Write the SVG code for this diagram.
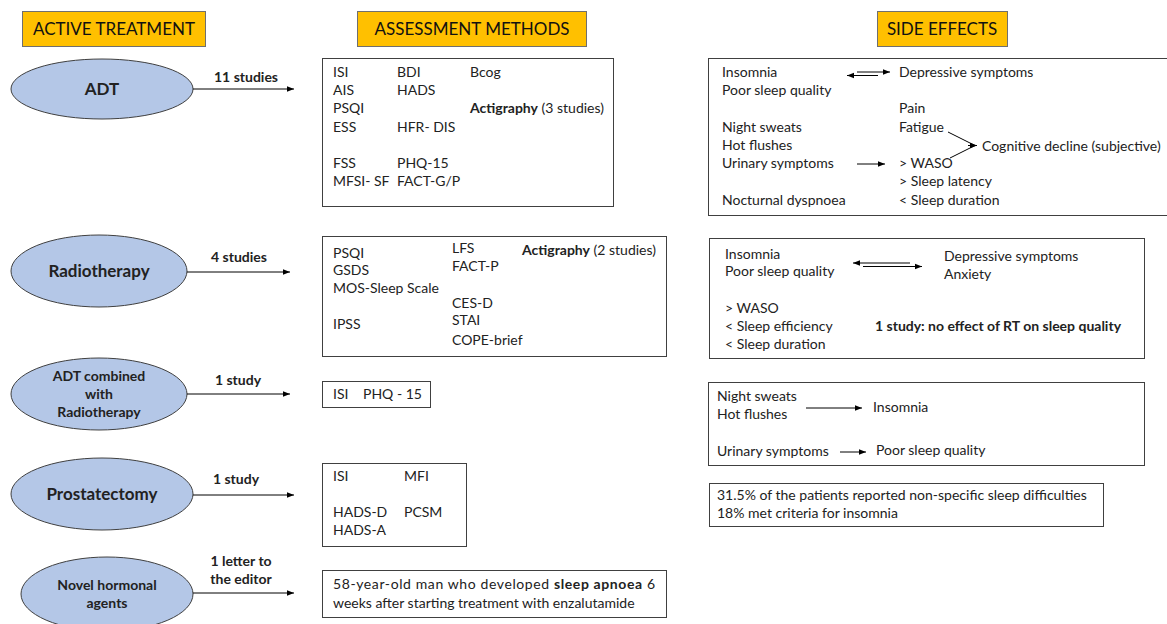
<svg xmlns="http://www.w3.org/2000/svg" width="1167" height="624" viewBox="0 0 1167 624">
<defs>
<style>
text{font-family:Lato,"Liberation Sans",sans-serif;font-size:14px;fill:#222}
.b{font-weight:bold}
.h{font-size:17px;fill:#111}
.hdr{fill:#FFC000;stroke:#6f6f6f;stroke-width:1}
.ell{fill:#B4C7E7;stroke:#404040;stroke-width:1}
.box{fill:#fff;stroke:#404040;stroke-width:1}
.ln{stroke:#000;stroke-width:1;fill:none}
.et{font-weight:bold;font-size:17px;text-anchor:middle}
.et2{font-weight:bold;font-size:14px;text-anchor:middle}
.lab{font-weight:bold;font-size:14px;text-anchor:middle}
</style>
<marker id="ah" viewBox="0 0 10 10" refX="10" refY="5" markerWidth="7" markerHeight="7" markerUnits="userSpaceOnUse" orient="auto"><path d="M0,1 L10,5 L0,9 z" fill="#000"/></marker>
</defs>
<rect width="1167" height="624" fill="#fff"/>

<g id="hdr-active"><rect class="hdr" x="22.5" y="11.5" width="183" height="35"/><text class="h" x="114" y="35" text-anchor="middle">ACTIVE TREATMENT</text></g>
<g id="hdr-assess"><rect class="hdr" x="357.5" y="11.5" width="229" height="35"/><text class="h" x="472" y="35" text-anchor="middle">ASSESSMENT METHODS</text></g>
<g id="hdr-side"><rect class="hdr" x="877.5" y="11.5" width="130" height="35"/><text class="h" x="942" y="35" text-anchor="middle">SIDE EFFECTS</text></g>

<g id="n-adt"><ellipse class="ell" cx="102" cy="89" rx="91" ry="30"/><text class="et" x="102" y="95">ADT</text></g>
<g id="n-rt"><ellipse class="ell" cx="99" cy="271" rx="88" ry="36"/><text class="et" x="99" y="277">Radiotherapy</text></g>
<g id="n-adtrt"><ellipse class="ell" cx="99" cy="394" rx="88" ry="36"/><text class="et2" x="99" y="381">ADT combined</text><text class="et2" x="99" y="399">with</text><text class="et2" x="99" y="417">Radiotherapy</text></g>
<g id="n-prost"><ellipse class="ell" cx="102" cy="494" rx="91" ry="36"/><text class="et" x="102" y="500">Prostatectomy</text></g>
<g id="n-novel"><ellipse class="ell" cx="107" cy="594" rx="86" ry="37"/><text class="et2" x="107" y="590">Novel hormonal</text><text class="et2" x="107" y="608">agents</text></g>

<g id="connectors">
<line class="ln" x1="193" y1="89" x2="294" y2="89" marker-end="url(#ah)"/>
<text class="lab" x="246" y="82">11 studies</text>
<line class="ln" x1="187" y1="272" x2="290" y2="272" marker-end="url(#ah)"/>
<text class="lab" x="239" y="262">4 studies</text>
<line class="ln" x1="187" y1="394" x2="290" y2="394" marker-end="url(#ah)"/>
<text class="lab" x="238" y="385">1 study</text>
<line class="ln" x1="193" y1="495" x2="294" y2="495" marker-end="url(#ah)"/>
<text class="lab" x="236" y="484">1 study</text>
<line class="ln" x1="193" y1="593" x2="294" y2="593" marker-end="url(#ah)"/>
<text class="lab" x="241" y="566">1 letter to</text>
<text class="lab" x="241" y="584">the editor</text>
</g>

<g id="m-adt"><rect class="box" x="322.5" y="58.5" width="291" height="148"/>
<text x="333" y="77">ISI</text><text x="333" y="95">AIS</text><text x="333" y="113">PSQI</text><text x="333" y="132">ESS</text><text x="333" y="168">FSS</text><text x="333" y="186">MFSI- SF</text>
<text x="397" y="77">BDI</text><text x="397" y="95">HADS</text><text x="397" y="132">HFR- DIS</text><text x="397" y="168">PHQ-15</text><text x="397" y="186">FACT-G/P</text>
<text x="470" y="77">Bcog</text><text x="470" y="113"><tspan class="b">Actigraphy</tspan> (3 studies)</text>
</g>

<g id="s-adt"><rect class="box" x="708.5" y="58.5" width="470" height="157"/>
<text x="722" y="77">Insomnia</text><text x="722" y="95">Poor sleep quality</text><text x="722" y="132">Night sweats</text><text x="722" y="150">Hot flushes</text><text x="722" y="168">Urinary symptoms</text><text x="722" y="205">Nocturnal dyspnoea</text>
<text x="899" y="77">Depressive symptoms</text><text x="899" y="113">Pain</text><text x="899" y="132">Fatigue</text><text x="899" y="168">&gt; WASO</text><text x="899" y="186">&gt; Sleep latency</text><text x="899" y="205">&lt; Sleep duration</text>
<text x="982" y="151">Cognitive decline (subjective)</text>
<line class="ln" x1="857" y1="72" x2="890" y2="72" marker-end="url(#ah)"/>
<line class="ln" x1="878" y1="75.5" x2="847" y2="75.5" marker-end="url(#ah)"/>
<line class="ln" x1="857" y1="164" x2="885" y2="164" marker-end="url(#ah)"/>
<polyline class="ln" points="948,132 975,145.5 950,158"/>
<line class="ln" x1="968" y1="145.5" x2="977" y2="145.5" marker-end="url(#ah)"/>
</g>

<g id="m-rt"><rect class="box" x="322.5" y="236.5" width="344" height="120"/>
<text x="333" y="258">PSQI</text><text x="333" y="275">GSDS</text><text x="333" y="293">MOS-Sleep Scale</text><text x="333" y="329">IPSS</text>
<text x="452" y="253">LFS</text><text x="452" y="271">FACT-P</text><text x="452" y="308">CES-D</text><text x="452" y="325">STAI</text><text x="452" y="345">COPE-brief</text>
<text x="522" y="255"><tspan class="b">Actigraphy</tspan> (2 studies)</text>
</g>

<g id="s-rt"><rect class="box" x="709.5" y="238.5" width="435" height="120"/>
<text x="725" y="259">Insomnia</text><text x="725" y="276">Poor sleep quality</text><text x="725" y="313">&gt; WASO</text><text x="725" y="331">&lt; Sleep efficiency</text><text x="725" y="349">&lt; Sleep duration</text>
<text x="944" y="261">Depressive symptoms</text><text x="944" y="279">Anxiety</text>
<text class="b" x="875" y="331">1 study: no effect of RT on sleep quality</text>
<line class="ln" x1="910" y1="263" x2="853" y2="263" marker-end="url(#ah)"/>
<line class="ln" x1="863" y1="266.5" x2="922" y2="266.5" marker-end="url(#ah)"/>
</g>

<g id="m-adtrt"><rect class="box" x="322.5" y="381.5" width="108" height="26"/>
<text x="333" y="399">ISI</text><text x="363" y="399">PHQ - 15</text>
</g>

<g id="s-adtrt"><rect class="box" x="708.5" y="382.5" width="436" height="83"/>
<text x="717" y="401">Night sweats</text><text x="717" y="419">Hot flushes</text><text x="873" y="412">Insomnia</text>
<text x="717" y="456">Urinary symptoms</text><text x="876" y="455">Poor sleep quality</text>
<line class="ln" x1="806" y1="408" x2="862" y2="408" marker-end="url(#ah)"/>
<line class="ln" x1="840" y1="452" x2="866" y2="452" marker-end="url(#ah)"/>
</g>

<g id="m-prost"><rect class="box" x="322.5" y="463.5" width="144" height="83"/>
<text x="333" y="481">ISI</text><text x="404" y="481">MFI</text><text x="333" y="517">HADS-D</text><text x="404" y="517">PCSM</text><text x="333" y="535">HADS-A</text>
</g>

<g id="s-prost"><rect class="box" x="709.5" y="483.5" width="394" height="43"/>
<text x="717" y="500">31.5% of the patients reported  non-specific sleep difficulties</text>
<text x="717" y="518">18% met criteria for insomnia</text>
</g>

<g id="m-novel"><rect class="box" x="322.5" y="570.5" width="344" height="47"/>
<text x="333" y="589" textLength="322" lengthAdjust="spacing">58-year-old man who developed <tspan class="b">sleep apnoea</tspan> 6</text>
<text x="333" y="608">weeks after starting treatment with enzalutamide</text>
</g>
</svg>
